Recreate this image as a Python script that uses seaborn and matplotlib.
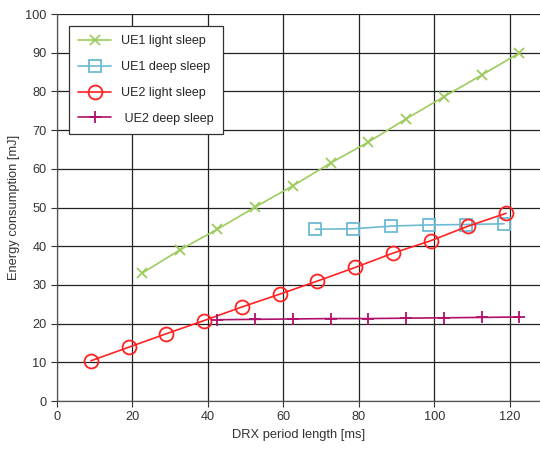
import matplotlib
matplotlib.use("Agg")
import matplotlib.pyplot as plt
import seaborn as sns

# Data
ue1_light_x = [22.5, 32.5, 42.5, 52.5, 62.5, 72.5, 82.5, 92.5, 102.5, 112.5, 122.5]
ue1_light_y = [33.0, 39.0, 44.4, 50.1, 55.6, 61.5, 66.9, 72.9, 78.6, 84.2, 89.9]

ue1_deep_x = [68.5, 78.5, 88.5, 98.5, 108.5, 118.5]
ue1_deep_y = [44.4, 44.5, 45.2, 45.5, 45.6, 45.8]

ue2_light_x = [9, 19, 29, 39, 49, 59, 69, 79, 89, 99, 109, 119]
ue2_light_y = [10.4, 13.9, 17.4, 20.8, 24.3, 27.6, 31.0, 34.5, 38.2, 41.4, 45.2, 48.5]

ue2_deep_x = [42.5, 52.5, 62.5, 72.5, 82.5, 92.5, 102.5, 112.5, 122.5]
ue2_deep_y = [21.0, 21.1, 21.2, 21.3, 21.3, 21.4, 21.5, 21.6, 21.7]

sns.set_style("white")
plt.rcParams["font.family"] = ["Liberation Sans", "DejaVu Sans"]

fig = plt.figure(figsize=(5.4, 4.49), dpi=100)
ax = fig.add_axes([0.1056, 0.1069, 0.8944, 0.8619])

series = [
    (ue1_light_x, ue1_light_y, "#9DCB5E", "x", 7.5, "UE1 light sleep"),
    (ue1_deep_x, ue1_deep_y, "#6CBAD4", "s", 8, "UE1 deep sleep"),
    (ue2_light_x, ue2_light_y, "#FF2222", "o", 10, "UE2 light sleep"),
    (ue2_deep_x, ue2_deep_y, "#B0106A", "+", 8.5, " UE2 deep sleep"),
]
for xs, ys, col, mk, ms, lab in series:
    sns.lineplot(x=xs, y=ys, ax=ax, color=col, lw=1.2, ls="-",
                 marker=mk, markersize=ms, mew=1.3, mfc="none", mec=col,
                 label=lab)

ax.set_xlim(0, 128)
ax.set_ylim(0, 100)
ax.set_xticks(range(0, 121, 20))
ax.set_yticks(range(0, 101, 10))
ax.grid(True, color="#222222", lw=0.9)
ax.set_axisbelow(True)

for side in ["top", "right"]:
    ax.spines[side].set_visible(False)
for side in ["left", "bottom"]:
    ax.spines[side].set_color("#555555")
    ax.spines[side].set_linewidth(0.9)

ax.tick_params(axis="both", labelsize=9.2, colors="#333333", direction="out",
               length=4, width=0.8, left=True, bottom=True)
ax.set_xlabel("DRX period length [ms]", fontsize=9.3, color="#333333")
ax.set_ylabel("Energy consumption [mJ]", fontsize=9.3, color="#333333")

leg = ax.legend(loc="upper left", bbox_to_anchor=(0.012, 0.985), fontsize=9,
                fancybox=False, framealpha=1, edgecolor="#333333",
                handlelength=2.6, borderpad=0.75, labelspacing=1.1)
leg.get_frame().set_linewidth(0.9)

fig.savefig("out.png", dpi=100)
